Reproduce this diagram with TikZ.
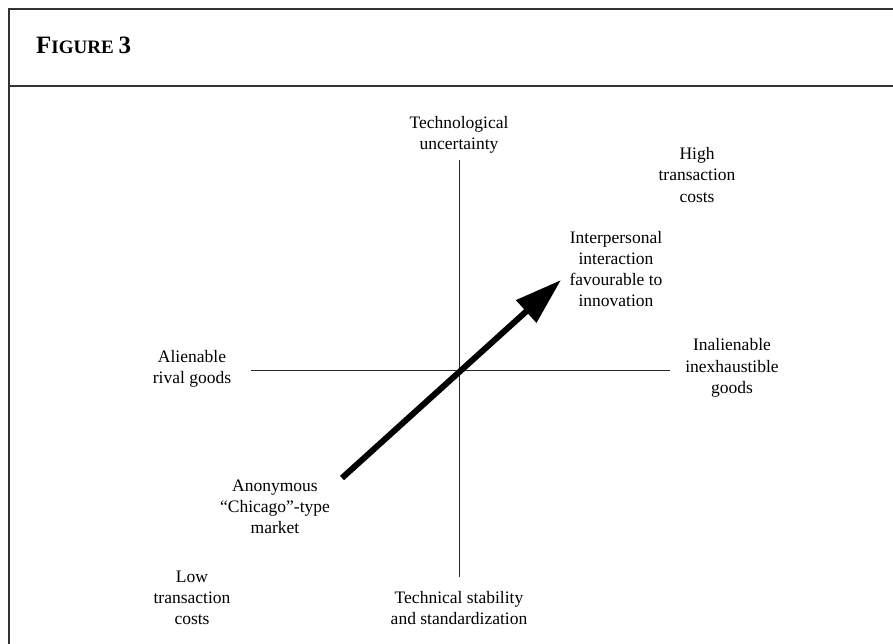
\documentclass[tikz,border=0pt]{standalone}
\usepackage{fontspec}
\setmainfont{Liberation Serif}
\usetikzlibrary{arrows.meta}
\begin{document}
\begin{tikzpicture}[x=1pt,y=-1pt,
  lbl/.style={align=center,inner sep=0pt,font=\fontsize{17.5}{21.3}\selectfont},
  axis/.style={line width=1pt,black!85},
  frame/.style={line width=1.4pt,black!80},
  bigarrow/.style={line width=6pt,-{Triangle[length=47pt,width=29pt]}}]
\useasboundingbox (0,0) rectangle (893,644);
\fill[white] (0,0) rectangle (893,644);
% frame
\coordinate (ftl) at (9,9);
\coordinate (ftr) at (893,9);
\coordinate (fbl) at (9,644);
\coordinate (hl) at (9,86);
\coordinate (hr) at (893,86);
\draw[frame] (ftr) -- (ftl) -- (fbl);
\draw[frame] (hl) -- (hr);
\node[anchor=base west,inner sep=0pt,font=\bfseries] (title) at (36,54)
  {\fontsize{25}{30}\selectfont F\fontsize{19}{24}\selectfont IGURE \fontsize{25}{30}\selectfont 3};
% axes
\coordinate (vtop) at (459,160);
\coordinate (vbot) at (459,577);
\coordinate (hleft) at (251,370);
\coordinate (hright) at (670,370);
\draw[axis] (vtop) -- (vbot);
\draw[axis] (hleft) -- (hright);
% labels
\node[lbl] (techunc) at (459,135) {Technological\\uncertainty};
\node[lbl] (high) at (697,175) {High\\transaction\\costs};
\node[lbl] (inter) at (616,269) {Interpersonal\\interaction\\favourable to\\innovation};
\node[lbl] (alien) at (192,369) {Alienable\\rival goods};
\node[lbl] (inalien) at (732,368) {Inalienable\\inexhaustible\\goods};
\node[lbl] (anon) at (275,507) {Anonymous\\``Chicago''-type\\market};
\node[lbl] (low) at (192,598) {Low\\transaction\\costs};
\node[lbl] (techstab) at (459,608) {Technical stability\\and standardization};
% arrow
\coordinate (astart) at (342,478);
\coordinate (aend) at (561,280);
\draw[bigarrow] (astart) -- (aend);
\end{tikzpicture}
\end{document}
